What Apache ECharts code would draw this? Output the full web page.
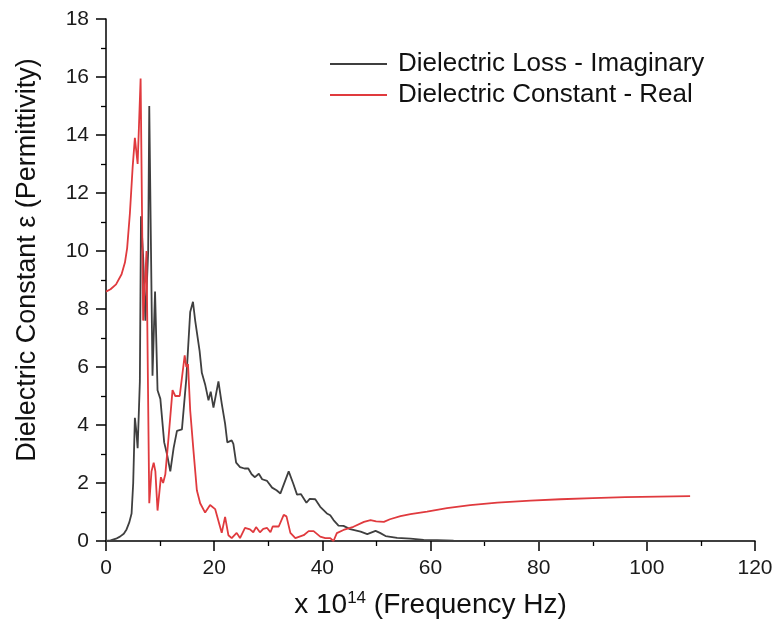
<!DOCTYPE html>
<html>
<head>
<meta charset="utf-8">
<script src="https://cdn.jsdelivr.net/npm/echarts@6/dist/echarts.min.js"></script>
<style>
  html, body { margin: 0; padding: 0; background: #fff; }
  #chart { width: 778px; height: 633px; }
</style>
</head>
<body>
<div id="chart"></div>
<script>
// Dielectric response vs frequency (x 10^14 Hz)
const seriesNames = ['Dielectric Loss - Imaginary', 'Dielectric Constant - Real'];

// Imaginary part (dielectric loss): [frequency, value]
const lossData = [
  [0, 0], [0.84, 0.02], [1.86, 0.08], [2.58, 0.15], [3.29, 0.25], [3.8, 0.4], [4.32, 0.65],
  [4.73, 0.95], [5.03, 2.0], [5.34, 4.25], [5.6, 3.8], [5.85, 3.2], [6.26, 5.5],
  [6.47, 11.2], [6.87, 9.8], [7.28, 7.6], [7.8, 10.0], [8.0, 15.0], [8.6, 5.7],
  [9.07, 8.6], [9.53, 5.2], [10.05, 4.9], [10.76, 3.4], [11.27, 3.0], [11.89, 2.4],
  [12.5, 3.2], [13.12, 3.8], [14.04, 3.85], [14.85, 5.6], [15.57, 7.9], [16.08, 8.25],
  [16.49, 7.6], [17.31, 6.55], [17.72, 5.8], [18.33, 5.4], [18.95, 4.85], [19.36, 5.15],
  [19.87, 4.6], [20.79, 5.5], [21.4, 4.74], [22.02, 4.05], [22.43, 3.4], [23.24, 3.47],
  [23.55, 3.35], [24.06, 2.7], [24.78, 2.55], [25.6, 2.5], [26.31, 2.5], [26.93, 2.3],
  [27.54, 2.2], [28.26, 2.32], [28.87, 2.13], [29.79, 2.07], [30.71, 1.84], [31.53, 1.75],
  [32.25, 1.64], [33.78, 2.4], [34.6, 1.99], [35.32, 1.6], [36.03, 1.62], [37.06, 1.32],
  [37.67, 1.45], [38.69, 1.44], [39.61, 1.18], [40.84, 0.95], [41.46, 0.89], [42.07, 0.72],
  [42.99, 0.53], [43.91, 0.52], [45.14, 0.41], [47.08, 0.32], [48.31, 0.24], [49.84, 0.35],
  [50.66, 0.28], [51.69, 0.17], [53.83, 0.11], [56.29, 0.08], [58.75, 0.04], [61.2, 0.03],
  [64.27, 0.015], [67.3, 0.005], [71.4, 0], [80, 0], [90, 0], [100, 0], [108, 0]
];

// Real part (permittivity): [frequency, value]
const realData = [
  [0, 8.6], [0.84, 8.68], [1.86, 8.85], [2.88, 9.2], [3.5, 9.6], [3.91, 10.1], [4.42, 11.3],
  [4.93, 12.9], [5.34, 13.9], [5.85, 13.0], [6.4, 15.95], [6.87, 7.6], [7.49, 10.0],
  [8.0, 1.3], [8.41, 2.4], [8.82, 2.7], [9.13, 2.4], [9.53, 1.05], [10.15, 2.2],
  [10.56, 2.0], [10.97, 2.3], [11.58, 3.6], [12.3, 5.2], [12.81, 5.0], [13.63, 5.0],
  [14.55, 6.4], [14.85, 6.0], [15.16, 6.1], [15.57, 4.5], [16.18, 3.1], [16.8, 1.75],
  [17.41, 1.3], [18.33, 0.98], [19.25, 1.24], [20.18, 1.1], [21.1, 0.48], [21.4, 0.28],
  [22.02, 0.83], [22.63, 0.2], [23.24, 0.1], [24.16, 0.28], [24.78, 0.1], [25.7, 0.45],
  [26.62, 0.4], [27.23, 0.3], [27.75, 0.48], [28.46, 0.3], [29.08, 0.42], [29.79, 0.45],
  [30.41, 0.3], [30.82, 0.5], [31.94, 0.5], [32.86, 0.9], [33.37, 0.85], [34.09, 0.28],
  [35.01, 0.1], [36.55, 0.2], [37.47, 0.34], [38.39, 0.34], [39.61, 0.15], [40.54, 0.1],
  [41.46, 0.1], [42.07, 0.0], [42.68, 0.27], [43.91, 0.38], [45.75, 0.49], [47.7, 0.66],
  [48.92, 0.72], [49.95, 0.68], [51.38, 0.66], [52.5, 0.75], [54.45, 0.86], [56.29, 0.93],
  [59.36, 1.01], [63.04, 1.13], [67.34, 1.24], [72.35, 1.32], [78.49, 1.39], [84, 1.44],
  [90, 1.48], [96, 1.51], [102, 1.53], [108, 1.55]
];

const xRange = [0, 120, 20];
const yRange = [0, 18, 2];
const lineColors = ['#3f3f3f', '#e03a3e'];
const font = 'Liberation Sans, Arial, sans-serif';

const chart = echarts.init(document.getElementById('chart'), null, { renderer: 'canvas' });

const axisCommon = {
  type: 'value',
  splitLine: { show: false },
  axisLine: { show: true, lineStyle: { color: '#000', width: 1.5 } },
  axisTick: { show: true, inside: false, length: 10, lineStyle: { color: '#000', width: 1.5 } },
  minorTick: { show: true, splitNumber: 2, length: 5, lineStyle: { color: '#000', width: 1.3 } },
  axisLabel: { fontFamily: font, fontSize: 21, color: '#1a1a1a', margin: 17 },
  nameLocation: 'middle'
};

chart.setOption({
  backgroundColor: '#fff',
  animation: false,
  grid: { left: 106, right: 23, top: 19, bottom: 92, containLabel: false },
  legend: {
    data: seriesNames,
    orient: 'vertical',
    left: 325,
    top: 46,
    icon: 'rect',
    itemWidth: 57,
    itemHeight: 2,
    itemGap: 5,
    textStyle: { fontFamily: font, fontSize: 26, color: '#111', padding: [0, 0, 0, 6] }
  },
  xAxis: Object.assign({}, axisCommon, {
    min: xRange[0], max: xRange[1], interval: xRange[2],
    name: 'x 10{sup|14} (Frequency Hz)',
    nameGap: 49,
    nameTextStyle: {
      fontFamily: font, fontSize: 28, color: '#111', lineHeight: 31,
      rich: { sup: { fontFamily: font, fontSize: 17, color: '#111', verticalAlign: 'top', lineHeight: 17 } }
    }
  }),
  yAxis: Object.assign({}, axisCommon, {
    min: yRange[0], max: yRange[1], interval: yRange[2],
    name: 'Dielectric Constant ε (Permittivity)',
    nameGap: 65,
    // left padding nudges the rotated title upward along the axis
    nameTextStyle: { fontFamily: font, fontSize: 27, color: '#111', padding: [0, 0, 0, 40] }
  }),
  series: [
    {
      name: seriesNames[0], type: 'line', data: lossData,
      showSymbol: false, symbol: 'none',
      lineStyle: { color: lineColors[0], width: 1.8 },
      itemStyle: { color: lineColors[0] },
      z: 2
    },
    {
      name: seriesNames[1], type: 'line', data: realData,
      showSymbol: false, symbol: 'none',
      lineStyle: { color: lineColors[1], width: 1.8 },
      itemStyle: { color: lineColors[1] },
      z: 3
    }
  ]
});
</script>
</body>
</html>
